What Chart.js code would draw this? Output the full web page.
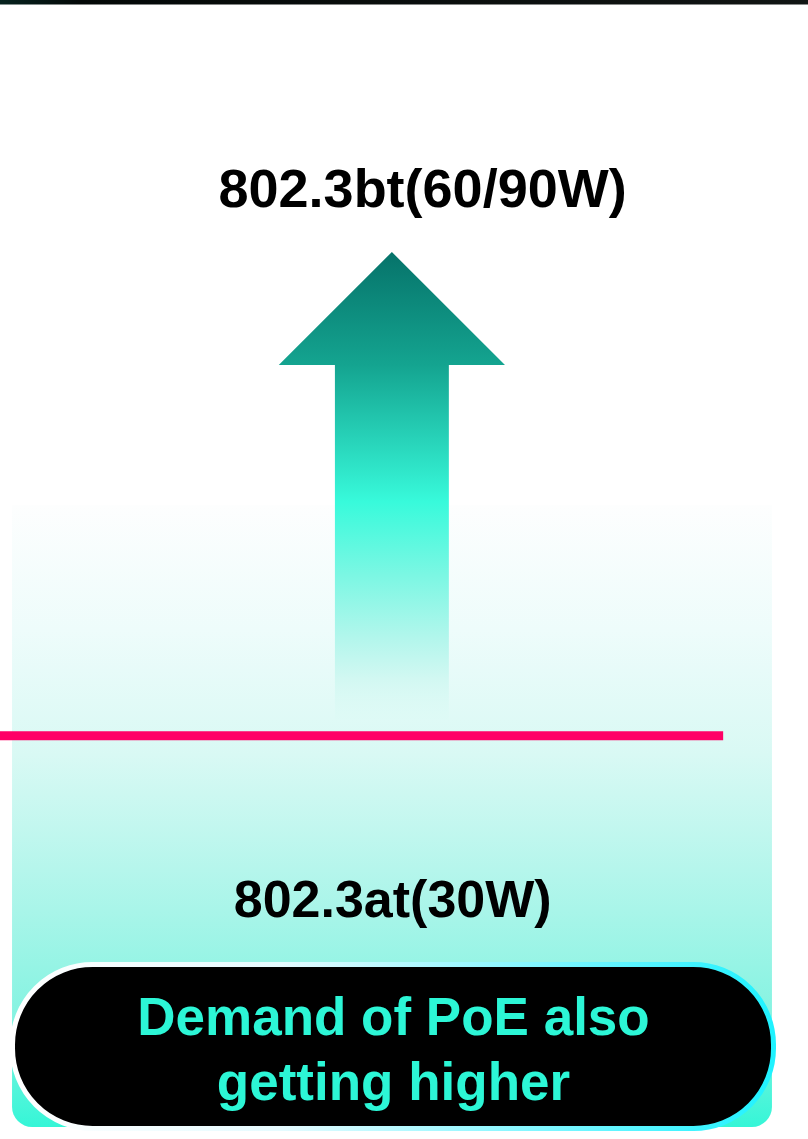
<!DOCTYPE html>
<html>
<head>
<meta charset="utf-8">
<script src="https://cdn.jsdelivr.net/npm/chart.js@4.4.1/dist/chart.umd.min.js"></script>
<style>
  html, body { margin: 0; padding: 0; background: #ffffff; }
  #wrap { width: 808px; height: 1139px; position: relative; }
</style>
</head>
<body>
<div id="wrap"><canvas id="poe" width="808" height="1139"></canvas></div>
<script>
// data
const standards = ['802.3at(30W)', '802.3bt(60/90W)'];
const standardWatts = [30, 90];
const messageLines = ['Demand of PoE also', 'getting higher'];

// layout (x in % of width, y in watts on the hidden scale)
const LAYOUT = {
  yMin: -20, yMax: 121.25,
  panel: { x0: 1.49, x1: 95.54, top: 58.6, bottom: -18.5, radius: 20 },
  arrow: { cx: 48.5, shaftHalf: 7.05, headHalf: 14.0, headBase: 76.0, shaftEnd: 32.0 },
  line: { x0: 0, x1: 89.5 },
  btLabel: { x: 52.3, y: 95.6 },
  atLabel: { x: 48.6, y: 7.5 },
  pill: { x0: 1.24, x1: 96.04, top: 1.95, bottom: -19.0, textX: 48.7, lines: [-7.1, -15.2] }
};

const FONT = "'Liberation Sans', Arial, Helvetica, sans-serif";

/* ---- panel + arrow, behind the line ---- */
const backdrop = {
  id: 'backdrop',
  beforeDatasetsDraw(chart) {
    const { ctx, scales: { x, y } } = chart;
    ctx.save();

    // top dark rule
    const rule = ctx.createLinearGradient(0, 0, chart.width, 0);
    rule.addColorStop(0, '#06231f');
    rule.addColorStop(0.1, '#030807');
    rule.addColorStop(1, '#111514');
    ctx.fillStyle = rule;
    ctx.fillRect(0, 0, chart.width, 4.5);

    // light gradient panel
    const p = LAYOUT.panel;
    const px0 = x.getPixelForValue(p.x0), px1 = x.getPixelForValue(p.x1);
    const pt = y.getPixelForValue(p.top), pb = y.getPixelForValue(p.bottom);
    const g = ctx.createLinearGradient(0, pt, 0, pb);
    g.addColorStop(0, '#fdfefe');
    g.addColorStop(0.2, '#eefcfb');
    g.addColorStop(0.4, '#d9f9f4');
    g.addColorStop(0.65, '#a9f5e9');
    g.addColorStop(0.85, '#7ff3e0');
    g.addColorStop(1, '#35f6d7');
    ctx.fillStyle = g;
    ctx.beginPath();
    ctx.roundRect(px0, pt, px1 - px0, pb - pt, [0, 0, p.radius, p.radius]);
    ctx.fill();

    // arrow pointing to the higher standard
    const a = LAYOUT.arrow;
    const cx = x.getPixelForValue(a.cx);
    const sw = x.getPixelForValue(a.cx + a.shaftHalf) - cx;
    const hw = x.getPixelForValue(a.cx + a.headHalf) - cx;
    const tip = y.getPixelForValue(standardWatts[1]);
    const base = y.getPixelForValue(a.headBase);
    const end = y.getPixelForValue(a.shaftEnd);
    const ag = ctx.createLinearGradient(0, tip, 0, end);
    const f = v => (y.getPixelForValue(v) - tip) / (end - tip);
    ag.addColorStop(0, '#06736a');
    ag.addColorStop(f(a.headBase), '#14a490');
    ag.addColorStop(f(59), '#38fadb');
    ag.addColorStop(f(50), '#7bf7e3');
    ag.addColorStop(f(42), '#b3f6ec');
    ag.addColorStop(f(37), '#d2f8f2');
    ag.addColorStop(1, 'rgba(220,250,245,0.4)');
    ctx.fillStyle = ag;
    ctx.beginPath();
    ctx.moveTo(cx, tip);
    ctx.lineTo(cx + hw, base);
    ctx.lineTo(cx + sw, base);
    ctx.lineTo(cx + sw, end);
    ctx.lineTo(cx - sw, end);
    ctx.lineTo(cx - sw, base);
    ctx.lineTo(cx - hw, base);
    ctx.closePath();
    ctx.fill();
    ctx.restore();
  }
};

/* ---- labels + pill, on top ---- */
const overlay = {
  id: 'overlay',
  afterDatasetsDraw(chart) {
    const { ctx, scales: { x, y } } = chart;
    ctx.save();
    ctx.textAlign = 'center';
    ctx.textBaseline = 'alphabetic';

    ctx.fillStyle = '#000000';
    ctx.font = `bold 54px ${FONT}`;
    ctx.fillText(standards[1], x.getPixelForValue(LAYOUT.btLabel.x), y.getPixelForValue(LAYOUT.btLabel.y));
    ctx.font = `bold 52px ${FONT}`;
    ctx.fillText(standards[0], x.getPixelForValue(LAYOUT.atLabel.x), y.getPixelForValue(LAYOUT.atLabel.y));

    // pill
    const p = LAYOUT.pill;
    const bw = 5;
    const x0 = x.getPixelForValue(p.x0) + bw / 2, x1 = x.getPixelForValue(p.x1) - bw / 2;
    const t = y.getPixelForValue(p.top) + bw / 2, b = y.getPixelForValue(p.bottom) - bw / 2;
    const border = ctx.createLinearGradient(x0, 0, x1, 0);
    border.addColorStop(0, '#ffffff');
    border.addColorStop(0.35, '#e6fbff');
    border.addColorStop(0.7, '#7ff6ff');
    border.addColorStop(1, '#1ff2ff');
    ctx.beginPath();
    ctx.roundRect(x0, t, x1 - x0, b - t, 80);
    ctx.fillStyle = '#000000';
    ctx.fill();
    ctx.lineWidth = bw;
    ctx.strokeStyle = border;
    ctx.stroke();

    ctx.fillStyle = '#2cf6d6';
    ctx.font = `bold 53px ${FONT}`;
    messageLines.forEach((line, i) => {
      ctx.fillText(line, x.getPixelForValue(p.textX), y.getPixelForValue(p.lines[i]));
    });
    ctx.restore();
  }
};

const ctx = document.getElementById('poe').getContext('2d');
new Chart(ctx, {
  type: 'line',
  data: {
    datasets: [{
      label: standards[0],
      data: [
        { x: LAYOUT.line.x0, y: standardWatts[0] },
        { x: LAYOUT.line.x1, y: standardWatts[0] }
      ],
      borderColor: '#ff0066',
      borderWidth: 9,
      pointRadius: 0,
      fill: false,
      tension: 0
    }]
  },
  options: {
    responsive: false,
    animation: false,
    layout: { padding: 0 },
    plugins: { legend: { display: false }, tooltip: { enabled: false } },
    scales: {
      x: { type: 'linear', min: 0, max: 100, display: false },
      y: { type: 'linear', min: LAYOUT.yMin, max: LAYOUT.yMax, display: false }
    }
  },
  plugins: [backdrop, overlay]
});
</script>
</body>
</html>
